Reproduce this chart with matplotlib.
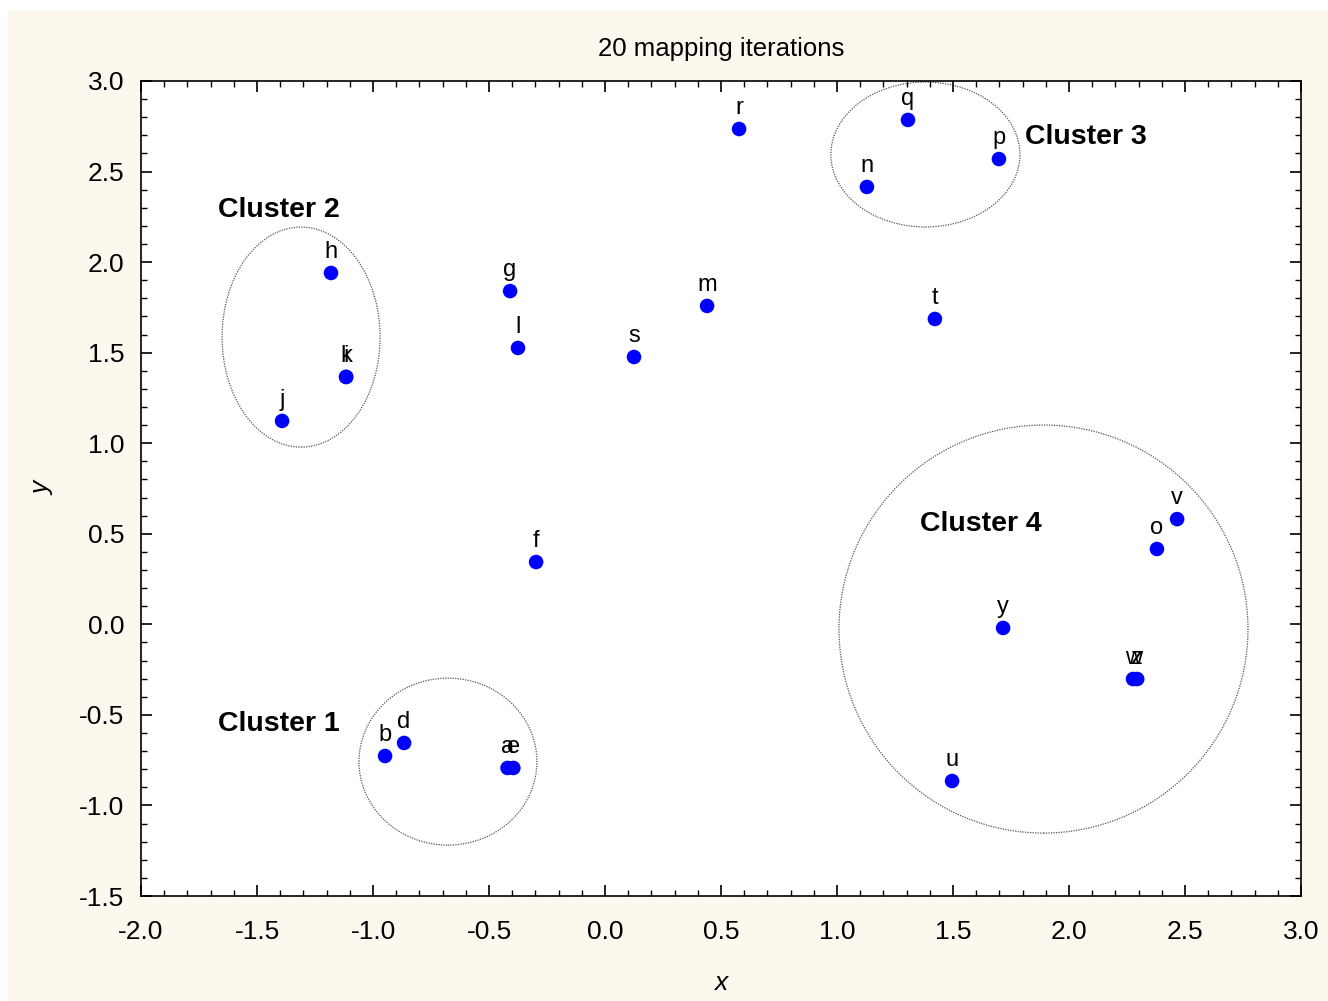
import numpy as np
import matplotlib.pyplot as plt
from matplotlib.patches import Ellipse, Rectangle
from matplotlib.ticker import MultipleLocator

plt.rcParams['font.family'] = ['Liberation Sans', 'DejaVu Sans']

# point names and their mapped coordinates
names = ["r", "q", "p", "n", "h", "g", "m", "t", "l", "s", "i", "k", "j", "f",
         "v", "o", "y", "w", "z", "u", "b", "d", "e", "a"]
xs = [0.578, 1.306, 1.698, 1.129, -1.181, -0.409, 0.440, 1.422, -0.375, 0.125,
      -1.116, -1.116, -1.392, -0.297, 2.466, 2.379, 1.716, 2.276, 2.294, 1.496,
      -0.948, -0.866, -0.395, -0.420]
ys = [2.735, 2.785, 2.569, 2.415, 1.940, 1.840, 1.758, 1.686, 1.526, 1.476,
      1.366, 1.366, 1.123, 0.344, 0.581, 0.416, -0.020, -0.302, -0.302, -0.865,
      -0.727, -0.655, -0.793, -0.793]

# cluster outlines: centre x, centre y, width, height
clusters = ["Cluster 1", "Cluster 2", "Cluster 3", "Cluster 4"]
cl_cx = [-0.677, -1.310, 1.381, 1.890]
cl_cy = [-0.758, 1.586, 2.594, -0.026]
cl_w = [0.767, 0.681, 0.815, 1.763]
cl_h = [0.922, 1.215, 0.800, 2.253]
cl_label_x = [-1.668, -1.668, 1.810, 1.358]
cl_label_y = [-0.551, 2.288, 2.691, 0.554]

fig = plt.figure(figsize=(13.28, 10.01), dpi=100)
fig.patch.set_facecolor("white")
fig.patches.append(Rectangle((8 / 1328, 0), 1 - 8 / 1328, 1 - 11 / 1001,
                             transform=fig.transFigure, facecolor="#fdf8ee",
                             edgecolor="none", zorder=-10))
ax = fig.add_axes([141 / 1328, 1 - 896 / 1001, 1160 / 1328, 815 / 1001])
ax.set_facecolor("white")

for cx, cy, w, h in zip(cl_cx, cl_cy, cl_w, cl_h):
    ax.add_patch(Ellipse((cx, cy), w, h, fill=False, edgecolor="#555555",
                         linestyle=(0, (1, 1)), linewidth=0.9))

ax.scatter(xs, ys, s=110, color="#0000ff", zorder=3, edgecolors="none")
for name, x, y in zip(names, xs, ys):
    ax.annotate(name, (x, y), xytext=(0, 7), textcoords="offset points",
                ha="center", va="bottom", fontsize=17)

for lab, x, y in zip(clusters, cl_label_x, cl_label_y):
    ax.text(x, y, lab, fontsize=20.5, fontweight="bold", ha="left", va="center")

ax.set_xlim(-2.0, 3.0)
ax.set_ylim(-1.5, 3.0)
ax.xaxis.set_major_locator(MultipleLocator(0.5))
ax.yaxis.set_major_locator(MultipleLocator(0.5))
ax.xaxis.set_minor_locator(MultipleLocator(0.1))
ax.yaxis.set_minor_locator(MultipleLocator(0.1))
ax.tick_params(which="both", direction="in", top=True, right=True, labelsize=19)
ax.tick_params(which="major", length=8, width=1.2)
ax.tick_params(which="minor", length=4, width=1)
ax.tick_params(axis="x", which="major", pad=17)
ax.tick_params(axis="y", which="major", pad=12)
ax.set_xticklabels([f"{v:.1f}" for v in ax.get_xticks()])
ax.set_yticklabels([f"{v:.1f}" for v in ax.get_yticks()])
for sp in ax.spines.values():
    sp.set_linewidth(1.2)

ax.set_title("20 mapping iterations", fontsize=18.5, pad=18)
ax.set_xlabel("x", fontsize=19, fontstyle="italic", labelpad=20)
ax.set_ylabel("y", fontsize=19, fontstyle="italic", labelpad=18)

fig.savefig("out.png", dpi=100)
